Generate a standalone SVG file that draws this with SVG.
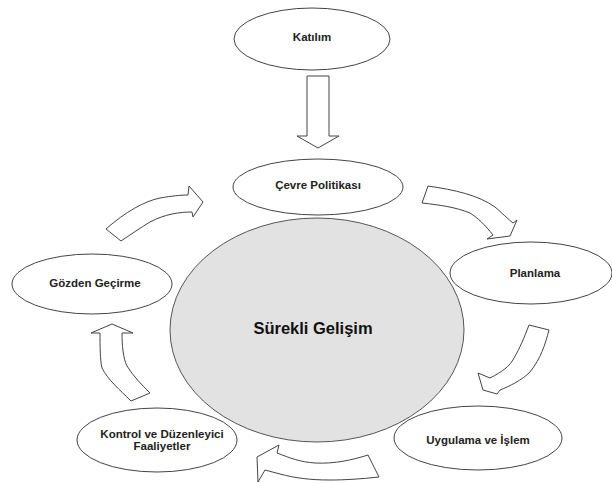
<svg xmlns="http://www.w3.org/2000/svg" width="612" height="483" viewBox="0 0 612 483">
<style>
.node{fill:#fff;stroke:#444;stroke-width:1}
.center{fill:#e2e2e2;stroke:#555;stroke-width:1}
.lbl{font-family:"Liberation Sans",Arial,sans-serif;font-weight:bold;font-size:11.5px;fill:#222;text-anchor:middle}
.big{font-family:"Liberation Sans",Arial,sans-serif;font-weight:bold;font-size:16.5px;fill:#111;text-anchor:middle}
.arr{fill:#fff;stroke:#444;stroke-width:1;stroke-linejoin:miter}
</style>
<rect width="612" height="483" fill="#fff"/>
<g id="connectors">
<path class="arr" d="M307,76 L329,76 L329,136 L339,136 L318,148 L297,136 L307,136 Z"/>
<path class="arr" d="M106,229 C125,212 145,201 160,198 C172,196 180,195 188,195 L189,186 L203,202 L193,217 L192,212 C180,212 165,214 150,222 C140,228 130,235 121,241 Z"/>
<path class="arr" d="M428,186 C455,190 478,195 495,207 C502,213 508,219 513,223 L517,220 L510,236 L487,239 L493,235 C485,225 478,218 470,213 C455,207 440,205 422,203 Z"/>
<path class="arr" d="M529,325 L549,330 C545,345 541,358 530,372 C522,380 510,386 500,390 L497,394 L483,390 L478,373 L490,378 C502,372 510,366 514,358 C520,348 524,338 529,325 Z"/>
<path class="arr" d="M368,455 L379,477 C360,479 345,480 330,480 C310,480 295,478 280,474 L265,470 L258,482 L257,457 L279,445 L277,453 C290,458 300,462 315,463 C335,464 352,460 368,455 Z"/>
<path class="arr" d="M150,393 L131,401 C120,390 108,380 102,368 C100,360 100,345 100,333 L91,333 L112,324 L133,333 L122,333 C122,345 123,358 127,366 C133,376 142,385 150,393 Z"/>
</g>
<g id="surekli-gelisim">
<ellipse class="center" cx="317" cy="330" rx="147" ry="112"/>
<text class="big" x="313" y="334">Sürekli Gelişim</text>
</g>
<g id="katilim">
<ellipse class="node" cx="312" cy="39" rx="78" ry="31"/>
<text class="lbl" x="312" y="41">Katılım</text>
</g>
<g id="cevre-politikasi">
<ellipse class="node" cx="318" cy="187" rx="85" ry="28"/>
<text class="lbl" x="318" y="189">Çevre Politikası</text>
</g>
<g id="planlama">
<ellipse class="node" cx="531" cy="273" rx="81" ry="31"/>
<text class="lbl" x="535" y="277">Planlama</text>
</g>
<g id="uygulama">
<ellipse class="node" cx="478" cy="438" rx="84" ry="32"/>
<text class="lbl" x="478" y="444">Uygulama ve İşlem</text>
</g>
<g id="kontrol">
<ellipse class="node" cx="157" cy="440" rx="80" ry="32"/>
<text class="lbl" x="162" y="438">Kontrol ve Düzenleyici</text>
<text class="lbl" x="162" y="450">Faaliyetler</text>
</g>
<g id="gozden-gecirme">
<ellipse class="node" cx="92" cy="284" rx="80" ry="30"/>
<text class="lbl" x="95" y="287">Gözden Geçirme</text>
</g>
</svg>
